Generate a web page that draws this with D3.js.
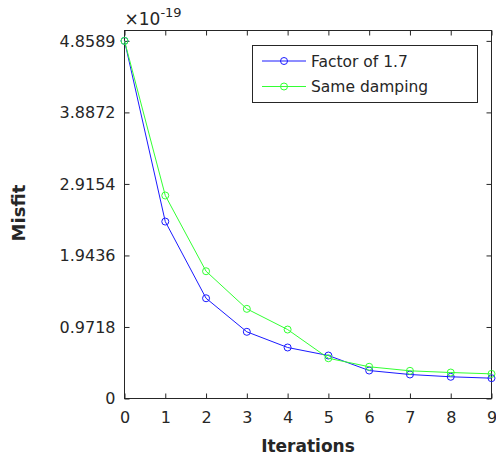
<!DOCTYPE html>
<html lang="en">
<head>
<meta charset="UTF-8">
<title>Misfit vs iterations</title>
<script src="https://d3js.org/d3.v7.min.js"></script>
<style>
  body { margin: 0; background: #fff; }
  svg text { font-family: "DejaVu Sans", sans-serif; fill: #262626; }
</style>
</head>
<body>
<svg id="chart" width="496" height="458"></svg>
<script>
// data (misfit in units of 1e-19)
const iterations = [0, 1, 2, 3, 4, 5, 6, 7, 8, 9];
const factor17 = [4.8589, 2.404, 1.362, 0.906, 0.693, 0.584, 0.380, 0.326, 0.295, 0.276];
const sameDamping = [4.8589, 2.758, 1.729, 1.218, 0.937, 0.547, 0.431, 0.376, 0.353, 0.335];
const yTicks = [0, 0.9718, 1.9436, 2.9154, 3.8872, 4.8589];
const yTickLabels = ['0', '0.9718', '1.9436', '2.9154', '3.8872', '4.8589'];
const seriesNames = ['Factor of 1.7', 'Same damping'];
const seriesColors = ['#1a1aff', '#33ff33'];

const svg = d3.select('#chart');
const m = { left: 124.5, right: 491.5, top: 30.5, bottom: 398.5 };

const x = d3.scaleLinear().domain([0, 9]).range([m.left, m.right]);
const y = d3.scaleLinear().domain([0, 5]).range([m.bottom, m.top]);

// box
svg.append('rect')
  .attr('x', m.left).attr('y', m.top)
  .attr('width', m.right - m.left).attr('height', m.bottom - m.top)
  .attr('fill', 'none').attr('stroke', '#262626').attr('stroke-width', 1);

// axes
const axStyle = g => {
  g.select('.domain').remove();
  g.selectAll('.tick line').attr('stroke', '#262626');
  g.selectAll('.tick text').style('font-size', '16px').attr('fill', '#262626');
};
svg.append('g').attr('transform', `translate(0,${m.bottom})`)
  .call(d3.axisBottom(x).tickValues(iterations).tickSize(-5).tickPadding(13).tickFormat(d3.format('d')))
  .call(axStyle);
svg.append('g').attr('transform', `translate(0,${m.top})`)
  .call(d3.axisTop(x).tickValues(iterations).tickSize(-5).tickFormat(''))
  .call(axStyle);
svg.append('g').attr('transform', `translate(${m.left},0)`)
  .call(d3.axisLeft(y).tickValues(yTicks).tickSize(-5).tickPadding(9).tickFormat((d, i) => yTickLabels[i]))
  .call(axStyle);
svg.append('g').attr('transform', `translate(${m.right},0)`)
  .call(d3.axisRight(y).tickValues(yTicks).tickSize(-5).tickFormat(''))
  .call(axStyle);

// exponent label
const ex = svg.append('text').attr('x', m.left).attr('y', 25).style('font-size', '17px');
ex.append('tspan').text('\u00d710');
ex.append('tspan').attr('dy', -8).style('font-size', '13px').text('-19');

// axis titles
svg.append('text').attr('x', (m.left + m.right) / 2).attr('y', 452)
  .attr('text-anchor', 'middle').style('font-size', '17px').style('font-weight', 'bold')
  .text('Iterations');
svg.append('text').attr('transform', 'translate(25,213) rotate(-90)')
  .attr('text-anchor', 'middle').style('font-size', '18px').style('font-weight', 'bold')
  .text('Misfit');

// series
const series = [factor17, sameDamping];
const line = d3.line().x((d, i) => x(iterations[i])).y(d => y(d));
series.forEach((vals, k) => {
  svg.append('path').datum(vals)
    .attr('d', line).attr('fill', 'none')
    .attr('stroke', seriesColors[k]).attr('stroke-width', 1);
  svg.append('g').selectAll('circle').data(vals).join('circle')
    .attr('cx', (d, i) => x(iterations[i])).attr('cy', d => y(d))
    .attr('r', 3.5).attr('fill', 'none')
    .attr('stroke', seriesColors[k]).attr('stroke-width', 1);
});

// legend
const lg = svg.append('g');
lg.append('rect').attr('x', 252.5).attr('y', 45.5).attr('width', 225).attr('height', 57)
  .attr('fill', '#fff').attr('stroke', '#262626').attr('stroke-width', 1);
seriesNames.forEach((name, k) => {
  const ly = 61 + k * 25.5;
  lg.append('line').attr('x1', 262).attr('x2', 306).attr('y1', ly).attr('y2', ly)
    .attr('stroke', seriesColors[k]);
  lg.append('circle').attr('cx', 284).attr('cy', ly).attr('r', 3.5)
    .attr('fill', 'none').attr('stroke', seriesColors[k]);
  lg.append('text').attr('x', 311).attr('y', ly + 5.5).style('font-size', '15.5px').text(name);
});
</script>
</body>
</html>
